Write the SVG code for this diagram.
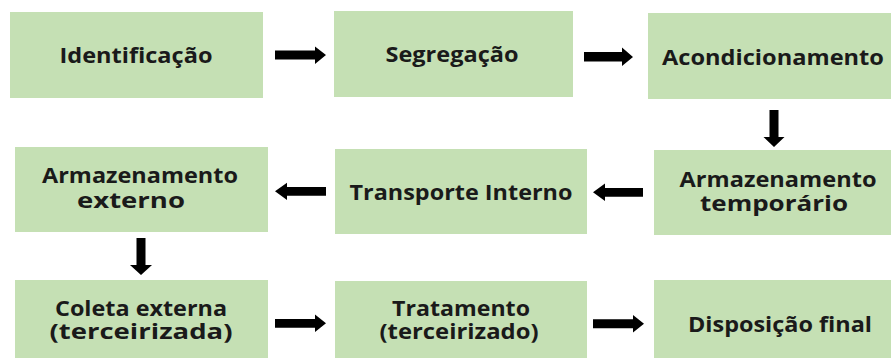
<svg xmlns="http://www.w3.org/2000/svg" width="891" height="358" viewBox="0 0 891 358">
<style>
.box{fill:#C5E0B4;}
.t{font-family:"Open Sans","Noto Sans","Liberation Sans",sans-serif;font-weight:bold;font-size:21px;fill:#1a1a1a;text-anchor:middle;}
.arr{fill:#000;}
</style>
<rect width="891" height="358" fill="#fff"/>
<g id="n-identificacao"><rect class="box" x="10" y="12" width="253" height="86"/><text class="t" x="136" y="63" textLength="153" lengthAdjust="spacingAndGlyphs">Identificação</text></g>
<g id="n-segregacao"><rect class="box" x="334" y="11" width="239" height="86"/><text class="t" x="452" y="62" textLength="133" lengthAdjust="spacingAndGlyphs">Segregação</text></g>
<g id="n-acondicionamento"><rect class="box" x="648" y="13" width="250" height="86"/><text class="t" x="773" y="65" textLength="222" lengthAdjust="spacingAndGlyphs">Acondicionamento</text></g>
<g id="n-armtemp"><rect class="box" x="654" y="150" width="244" height="85"/><text class="t" x="778" y="187" textLength="197" lengthAdjust="spacingAndGlyphs">Armazenamento</text><text class="t" x="774" y="211" textLength="148" lengthAdjust="spacingAndGlyphs">temporário</text></g>
<g id="n-transporte"><rect class="box" x="335" y="149" width="252" height="85"/><text class="t" x="461" y="200" textLength="223" lengthAdjust="spacingAndGlyphs">Transporte Interno</text></g>
<g id="n-armext"><rect class="box" x="15" y="147" width="253" height="85"/><text class="t" x="140" y="183" textLength="196" lengthAdjust="spacingAndGlyphs">Armazenamento</text><text class="t" x="131" y="208" textLength="108" lengthAdjust="spacingAndGlyphs">externo</text></g>
<g id="n-coleta"><rect class="box" x="15" y="280" width="253" height="85"/><text class="t" x="141" y="316" textLength="172" lengthAdjust="spacingAndGlyphs">Coleta externa</text><text class="t" x="141" y="339" textLength="183" lengthAdjust="spacingAndGlyphs">(terceirizada)</text></g>
<g id="n-tratamento"><rect class="box" x="335" y="281" width="252" height="85"/><text class="t" x="461" y="316" textLength="138" lengthAdjust="spacingAndGlyphs">Tratamento</text><text class="t" x="459" y="339" textLength="159" lengthAdjust="spacingAndGlyphs">(terceirizado)</text></g>
<g id="n-disposicao"><rect class="box" x="654" y="280" width="244" height="85"/><text class="t" x="780" y="332" textLength="184" lengthAdjust="spacingAndGlyphs">Disposição final</text></g>
<g id="connectors">
<polygon class="arr" points="275,50.5 315,50.5 315,46.5 326,55 315,64 315,59.5 275,59.5"/>
<polygon class="arr" points="584,52 622,52 622,47.5 633,57 622,66 622,61.5 584,61.5"/>
<polygon class="arr" points="769.5,110 778.5,110 778.5,137 784.5,137 774,147 763.5,137 769.5,137"/>
<polygon class="arr" points="643,188 605,188 605,183.5 593,192.3 605,201 605,196.7 643,196.7"/>
<polygon class="arr" points="326,187 287,187 287,182.7 275,191.3 287,200 287,195.7 326,195.7"/>
<polygon class="arr" points="136.5,238 145.5,238 145.5,265 152,265 141,275 130,265 136.5,265"/>
<polygon class="arr" points="275,319 315,319 315,314.5 326,323.3 315,332 315,327.7 275,327.7"/>
<polygon class="arr" points="593,319.3 633,319.3 633,315 644,323.7 633,332.5 633,328.2 593,328.2"/>
</g>
</svg>
